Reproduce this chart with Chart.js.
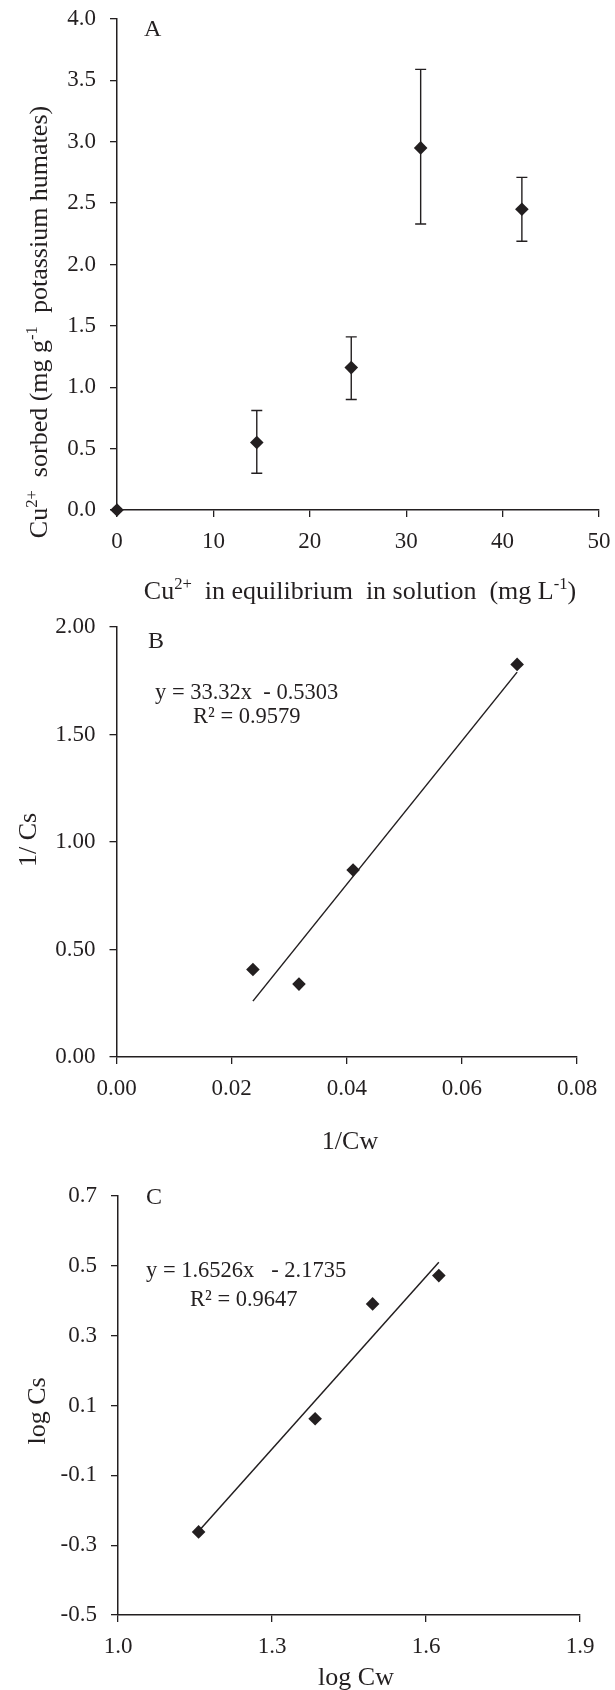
<!DOCTYPE html>
<html lang="en">
<head>
<meta charset="UTF-8">
<title>Cu2+ sorption on potassium humates</title>
<style>
  body { margin: 0; padding: 0; background: #fff; width: 615px; height: 1690px; position: relative; overflow: hidden; }
  canvas { position: absolute; left: 0; }
  #chartA { top: 0; }
  #chartB { top: 605px; }
  #chartC { top: 1160px; }
</style>
</head>
<body>
<canvas id="chartA" width="615" height="605"></canvas>
<canvas id="chartB" width="615" height="555"></canvas>
<canvas id="chartC" width="615" height="530"></canvas>
<script src="https://cdn.jsdelivr.net/npm/chart.js"></script>
<script>
// panel A - sorption isotherm
const cwA = [0, 14.5, 24.3, 31.5, 42.0];
const csA = [0, 0.55, 1.16, 2.95, 2.45];
const csHighA = [null, 0.81, 1.41, 3.59, 2.71];
const csLowA = [null, 0.30, 0.90, 2.33, 2.19];
const xTicksA = [0, 10, 20, 30, 40, 50];
const yTicksA = [0, 0.5, 1.0, 1.5, 2.0, 2.5, 3.0, 3.5, 4.0];

// panel B - Langmuir
const invCwB = [0.0237, 0.0317, 0.0411, 0.0696];
const invCsB = [0.407, 0.339, 0.870, 1.826];
const fitXB = [0.0237, 0.0696];
const fitYB = [0.26, 1.79];
const xTicksB = [0, 0.02, 0.04, 0.06, 0.08];
const yTicksB = [0, 0.5, 1.0, 1.5, 2.0];

// panel C - Freundlich
const logCwC = [1.157, 1.384, 1.496, 1.625];
const logCsC = [-0.262, 0.062, 0.391, 0.472];
const fitXC = [1.157, 1.625];
const fitYC = [-0.26, 0.51];
const xTicksC = [1.0, 1.3, 1.6, 1.9];
const yTicksC = [-0.5, -0.3, -0.1, 0.1, 0.3, 0.5, 0.7];

const serif = "'Liberation Serif', 'Times New Roman', serif";
const ink = '#231f20';

function drawRich(ctx, segs, x, y, size, align, rotate) {
  ctx.save();
  ctx.translate(x, y);
  if (rotate) ctx.rotate(-Math.PI / 2);
  let total = 0;
  const parts = segs.map(s => {
    const fs = s.sup ? size * 0.64 : size;
    ctx.font = fs + 'px ' + serif;
    const w = ctx.measureText(s.t).width;
    total += w;
    return { t: s.t, fs: fs, w: w, sup: s.sup };
  });
  let cx = align === 'center' ? -total / 2 : (align === 'right' ? -total : 0);
  ctx.textBaseline = 'alphabetic';
  ctx.fillStyle = ink;
  parts.forEach(p => {
    ctx.font = p.fs + 'px ' + serif;
    ctx.fillText(p.t, cx, size * 0.34 - (p.sup ? size * 0.38 : 0));
    cx += p.w;
  });
  ctx.restore();
}

function textPlugin(items) {
  return {
    id: 'panelText',
    afterDraw(chart) {
      items.forEach(it => drawRich(chart.ctx, it.segs, it.x, it.y, it.size, it.align, it.rotate));
    }
  };
}

function errorBarPlugin(highs, lows) {
  return {
    id: 'errorBars',
    beforeDatasetsDraw(chart) {
      const ctx = chart.ctx;
      const xs = chart.scales.x, ys = chart.scales.y;
      const pts = chart.data.datasets[0].data;
      ctx.save();
      ctx.strokeStyle = ink;
      ctx.lineWidth = 1.4;
      pts.forEach((p, i) => {
        if (highs[i] == null) return;
        const px = xs.getPixelForValue(p.x);
        const top = ys.getPixelForValue(highs[i]);
        const bot = ys.getPixelForValue(lows[i]);
        ctx.beginPath();
        ctx.moveTo(px, top); ctx.lineTo(px, bot);
        ctx.moveTo(px - 5.5, top); ctx.lineTo(px + 5.5, top);
        ctx.moveTo(px - 5.5, bot); ctx.lineTo(px + 5.5, bot);
        ctx.stroke();
      });
      ctx.restore();
    }
  };
}

function axis(min, max, ticks, digits, pad, fit) {
  return {
    type: 'linear', min: min, max: max,
    grid: { display: true, drawOnChartArea: false, drawTicks: true, tickLength: 7, color: ink, lineWidth: 1.3 },
    border: { display: true, color: ink, width: 1.5 },
    ticks: {
      color: ink, font: { family: serif, size: 23 }, padding: pad,
      autoSkip: false, maxRotation: 0, minRotation: 0,
      callback: v => Number(v).toFixed(digits)
    },
    afterBuildTicks: s => { s.ticks = ticks.map(v => ({ value: v })); },
    afterFit: fit
  };
}

function xFit(h) {
  return s => { s.height = h; s.paddingLeft = 0; s.paddingRight = 0; };
}
function yFit(w) {
  return s => { s.width = w; s.paddingTop = 0; s.paddingBottom = 0; };
}

function pairs(xs, ys) {
  return xs.map((x, i) => ({ x: x, y: ys[i] }));
}

function makeChart(id, cfg) {
  const datasets = [{
    type: 'scatter',
    data: pairs(cfg.x, cfg.y),
    pointStyle: 'rectRot', pointRadius: 6.8, pointHoverRadius: 6.8,
    backgroundColor: ink, borderColor: ink, borderWidth: 0,
    clip: false, order: 1
  }];
  if (cfg.fitX) {
    datasets.push({
      type: 'line',
      data: pairs(cfg.fitX, cfg.fitY),
      borderColor: ink, borderWidth: 1.5, pointRadius: 0,
      fill: false, tension: 0, clip: false, order: 2
    });
  }
  const plugins = [textPlugin(cfg.texts)];
  if (cfg.errHigh) plugins.push(errorBarPlugin(cfg.errHigh, cfg.errLow));
  return new Chart(document.getElementById(id), {
    type: 'scatter',
    data: { datasets: datasets },
    options: {
      responsive: false, animation: false, devicePixelRatio: 1,
      layout: { padding: cfg.padding },
      plugins: { legend: { display: false }, tooltip: { enabled: false } },
      scales: {
        x: axis(cfg.xMin, cfg.xMax, cfg.xTicks, cfg.xDigits, 11, xFit(cfg.xH)),
        y: axis(cfg.yMin, cfg.yMax, cfg.yTicks, cfg.yDigits, 14, yFit(cfg.yW))
      }
    },
    plugins: plugins
  });
}

makeChart('chartA', {
  x: cwA, y: csA, errHigh: csHighA, errLow: csLowA,
  xMin: 0, xMax: 50, xTicks: xTicksA, xDigits: 0,
  yMin: 0, yMax: 4, yTicks: yTicksA, yDigits: 1,
  padding: { top: 19, right: 16, left: 0, bottom: 0 }, xH: 95, yW: 117,
  texts: [
    { segs: [{ t: 'A' }], x: 144, y: 28, size: 24, align: 'left' },
    { segs: [{ t: 'Cu' }, { t: '2+', sup: true }, { t: '  in equilibrium  in solution  (mg L' }, { t: '-1', sup: true }, { t: ')' }],
      x: 360, y: 590, size: 26, align: 'center' },
    { segs: [{ t: 'Cu' }, { t: '2+', sup: true }, { t: '  sorbed (mg g' }, { t: '-1', sup: true }, { t: '  potassium humates)' }],
      x: 38, y: 322, size: 26, align: 'center', rotate: true }
  ]
});

makeChart('chartB', {
  x: invCwB, y: invCsB, fitX: fitXB, fitY: fitYB,
  xMin: 0, xMax: 0.08, xTicks: xTicksB, xDigits: 2,
  yMin: 0, yMax: 2, yTicks: yTicksB, yDigits: 2,
  padding: { top: 22, right: 38, left: 0, bottom: 0 }, xH: 103, yW: 116.5,
  texts: [
    { segs: [{ t: 'B' }], x: 148, y: 35, size: 24, align: 'left' },
    { segs: [{ t: 'y = 33.32x  - 0.5303' }], x: 155, y: 86, size: 22.5, align: 'left' },
    { segs: [{ t: 'R² = 0.9579' }], x: 193, y: 110, size: 22.5, align: 'left' },
    { segs: [{ t: '1/Cw' }], x: 350, y: 535, size: 26, align: 'center' },
    { segs: [{ t: '1/ Cs' }], x: 27, y: 235, size: 26, align: 'center', rotate: true }
  ]
});

makeChart('chartC', {
  x: logCwC, y: logCsC, fitX: fitXC, fitY: fitYC,
  xMin: 1.0, xMax: 1.9, xTicks: xTicksC, xDigits: 1,
  yMin: -0.5, yMax: 0.7, yTicks: yTicksC, yDigits: 1,
  padding: { top: 36, right: 35, left: 0, bottom: 0 }, xH: 75, yW: 118,
  texts: [
    { segs: [{ t: 'C' }], x: 146, y: 36, size: 24, align: 'left' },
    { segs: [{ t: 'y = 1.6526x   - 2.1735' }], x: 146, y: 109, size: 22.5, align: 'left' },
    { segs: [{ t: 'R² = 0.9647' }], x: 190, y: 138, size: 22.5, align: 'left' },
    { segs: [{ t: 'log Cw' }], x: 356, y: 516, size: 26, align: 'center' },
    { segs: [{ t: 'log Cs' }], x: 36, y: 251, size: 26, align: 'center', rotate: true }
  ]
});
</script>
</body>
</html>
